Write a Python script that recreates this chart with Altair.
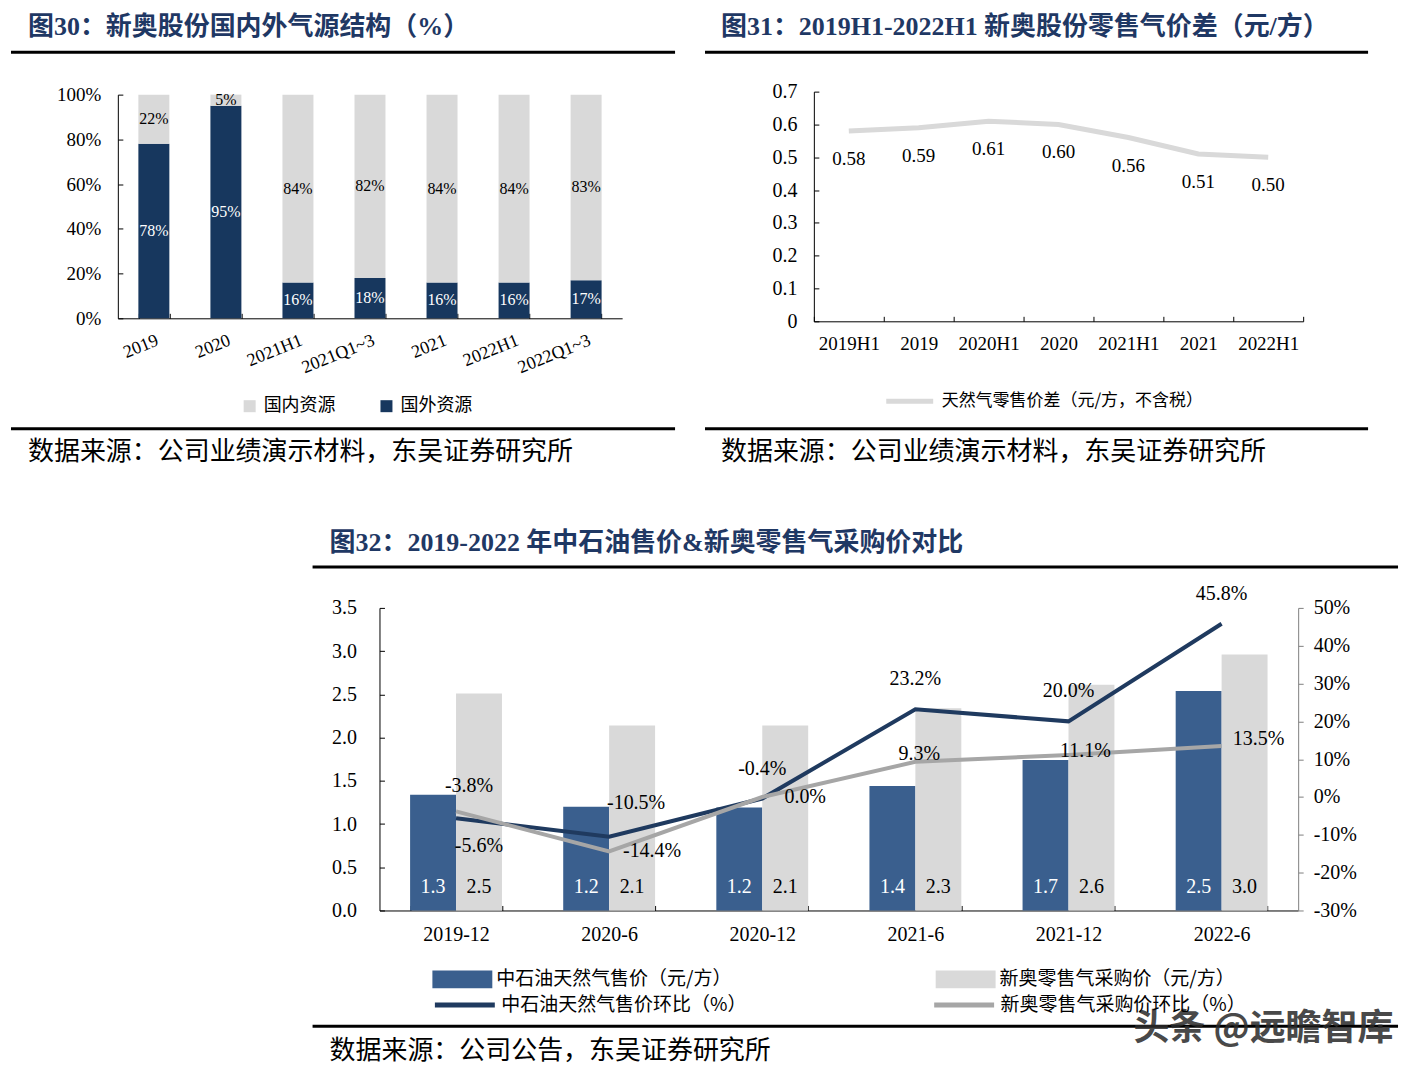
import altair as alt
import pandas as pd

# ---------------- data: figure 30 ----------------
PERIODS_30 = ["2019", "2020", "2021H1", "2021Q1~3", "2021", "2022H1", "2022Q1~3"]
DOMESTIC_30 = [22, 5, 84, 82, 84, 84, 83]
FOREIGN_30 = [78, 95, 16, 18, 16, 16, 17]
SOURCES_30 = ["国内资源", "国外资源"]

# ---------------- data: figure 31 ----------------
PERIODS_31 = ["2019H1", "2019", "2020H1", "2020", "2021H1", "2021", "2022H1"]
SPREAD_31 = [0.58, 0.59, 0.61, 0.60, 0.56, 0.51, 0.50]
SERIES_31 = "天然气零售价差（元/方，不含税）"

# ---------------- data: figure 32 ----------------
DATES_32 = ["2019-12", "2020-6", "2020-12", "2021-6", "2021-12", "2022-6"]
CNPC_PRICE = [1.34, 1.20, 1.19, 1.44, 1.74, 2.54]
ENN_PRICE = [2.51, 2.14, 2.14, 2.34, 2.61, 2.96]
CNPC_QOQ = [-5.6, -10.5, -0.4, 23.2, 20.0, 45.8]
ENN_QOQ = [-3.8, -14.4, 0.0, 9.3, 11.1, 13.5]
BAR_SERIES = ["中石油天然气售价（元/方）", "新奥零售气采购价（元/方）"]
LINE_SERIES = ["中石油天然气售价环比（%）", "新奥零售气采购价环比（%）"]

# label placement (style) for line labels of figure 32
CNPC_LABEL_POS = ["below_right", "above_right", "above", "above", "above", "above"]
ENN_LABEL_POS = ["above_near", "right", "right", "on", "on_right", "right_up"]
OFFSETS = {"above": (0, -30), "below_right": (23, 28), "above_right": (27, -34),
           "above_near": (13, -25), "right": (43, 0), "on": (4, -8),
           "on_right": (17, -4), "right_up": (37, -7)}

HEAD_1 = "图30：新奥股份国内外气源结构（%）"
HEAD_2 = "图31：2019H1-2022H1 新奥股份零售气价差（元/方）"
HEAD_3 = "图32：2019-2022 年中石油售价&新奥零售气采购价对比"
SRC_1 = "数据来源：公司业绩演示材料，东吴证券研究所"
SRC_3 = "数据来源：公司公告，东吴证券研究所"
WATERMARK = "头条 @远瞻智库"

# ---------------- styles ----------------
SERIF = "Liberation Serif, Noto Sans CJK SC, serif"
CJK = "Noto Sans CJK SC, sans-serif"
HEAD_FONT = "Liberation Serif, Noto Sans CJK SC"
HEAD_COLOR = "#1F3864"
NAVY_30 = "#17375E"
GRAY = "#D9D9D9"
BAR_BLUE = "#3A5F8E"
LINE_NAVY = "#1F3A5F"
LINE_GRAY = "#A6A6A6"

M = 8               # page margin: layout below is written in page pixels minus M
W, H = 1412, 1060   # canvas size

ONE = pd.DataFrame({"k": [0]})


def txt(s, x, y, size, color="black", weight="normal", font=CJK, opacity=1.0):
    return alt.Chart(ONE).mark_text(
        align="left", baseline="alphabetic", fontSize=size, font=font,
        fontWeight=weight, color=color, opacity=opacity
    ).encode(x=alt.value(x - M), y=alt.value(y - M), text=alt.value(s))


def hline(x1, x2, y, color="black", width=3):
    return alt.Chart(ONE).mark_rule(color=color, strokeWidth=width).encode(
        x=alt.value(x1 - M), x2=alt.value(x2 - M), y=alt.value(y - M))


def deco(heading, source, rx1, rx2, rule_top, rule_bottom, tx, head_base, src_base):
    return [
        txt(heading, tx, head_base, 26, HEAD_COLOR, "bold", HEAD_FONT),
        hline(rx1, rx2, rule_top),
        hline(rx1, rx2, rule_bottom),
        txt(source, tx, src_base, 26),
    ]


def left_off(x):      # offset placing a left axis at page x
    return -(x - M)


def right_off(x):     # offset placing a right axis at page x
    return (x - M) - W


def bottom_off(y):    # offset placing a bottom axis at page y
    return (y - M) - H


def top_off(y):       # offset placing a top axis at page y
    return -(y - M)


# main axes carry labels and domain; their own ticks are hidden because the
# reference draws ticks pointing into the plot (added by tick-only axes below)
AX = dict(domainColor="black", tickColor="black", labelColor="black", grid=False,
          labelOverlap=False, title=None, tickOpacity=0)


def inner_ticks_y(data, field, scale, x_page, values):
    return alt.Chart(data).mark_point(opacity=0).encode(
        y=alt.Y(field + ":Q", scale=scale,
                axis=alt.Axis(orient="right", offset=right_off(x_page), values=values,
                              labels=False, domain=False, tickSize=5, tickColor="black",
                              grid=False, title=None)))


def inner_ticks_x(data, field, sort, scale, y_page):
    return alt.Chart(data).mark_point(opacity=0).encode(
        x=alt.X(field + ":N", sort=sort, scale=scale,
                axis=alt.Axis(orient="top", offset=top_off(y_page), labels=False,
                              domain=False, tickSize=5, tickColor="black", tickBand="extent",
                              grid=False, title=None)))


# plot rectangles (page pixels): left, top, right, bottom
RA = (118, 94, 623, 318)
RB = (815, 91, 1305, 321)
RC = (380, 608, 1300, 911)

# ---------------- panel A (figure 30) ----------------
rows30 = []
for p, d, f in zip(PERIODS_30, DOMESTIC_30, FOREIGN_30):
    rows30.append(dict(period=p, source=SOURCES_30[1], value=f, ord=0))
    rows30.append(dict(period=p, source=SOURCES_30[0], value=d, ord=1))
df30 = pd.DataFrame(rows30)

stacked30 = alt.Chart(df30).transform_stack(
    stack="value", groupby=["period"], as_=["v0", "v1"],
    sort=[alt.SortField("ord", order="ascending")]
).transform_calculate(mid="(datum.v0 + datum.v1) / 2", lab="datum.value + '%'")

VALS_30 = [0, 20, 40, 60, 80, 100]
ax30x = alt.Axis(orient="bottom", offset=bottom_off(RA[3]), labelAngle=-22, labelAlign="right",
                 labelBaseline="top", labelFont=SERIF, labelFontSize=18, labelPadding=8,
                 tickBand="extent", tickSize=5, **AX)
ax30y = alt.Axis(orient="left", offset=left_off(RA[0]), values=VALS_30,
                 labelExpr="datum.value + '%'", labelFont=SERIF, labelFontSize=19,
                 labelPadding=12, tickSize=5, **AX)
sx30 = alt.Scale(type="band", paddingInner=0.57, paddingOuter=0.285, range=[RA[0] - M, RA[2] - M])
sy30 = alt.Scale(domain=[0, 100], nice=False, range=[RA[3] - M, RA[1] - M])

bars30 = stacked30.mark_bar().encode(
    x=alt.X("period:N", sort=PERIODS_30, title=None, scale=sx30, axis=ax30x),
    y=alt.Y("v0:Q", title=None, scale=sy30, axis=ax30y),
    y2="v1:Q",
    color=alt.Color("source:N", scale=alt.Scale(domain=SOURCES_30, range=[GRAY, NAVY_30]),
                    legend=alt.Legend(title=None, orient="none", legendX=241 - M, legendY=397 - M,
                                      direction="horizontal", symbolType="square",
                                      symbolSize=144, symbolStrokeWidth=0,
                                      labelFont=CJK, labelFontSize=18, labelColor="black",
                                      labelOffset=5, columnPadding=42, labelLimit=500)),
)

labels30 = stacked30.mark_text(font=SERIF, fontSize=16, baseline="middle").encode(
    x=alt.X("period:N", sort=PERIODS_30, title=None, scale=sx30, axis=ax30x),
    y=alt.Y("mid:Q", title=None, scale=sy30, axis=ax30y),
    text="lab:N",
    color=alt.condition(alt.datum.source == SOURCES_30[1], alt.value("white"), alt.value("black")),
)

panelA = alt.layer(bars30, labels30)

# ---------------- panel B (figure 31) ----------------
df31 = pd.DataFrame({"period": PERIODS_31, "spread": SPREAD_31, "series": SERIES_31})

VALS_31 = [0, 0.1, 0.2, 0.3, 0.4, 0.5, 0.6, 0.7]
ax31x = alt.Axis(orient="bottom", offset=bottom_off(RB[3]), labelAngle=0, labelFont=SERIF,
                 labelFontSize=19, labelPadding=8, tickBand="extent", tickSize=5, **AX)
ax31y = alt.Axis(orient="left", offset=left_off(RB[0]), values=VALS_31, format="~g",
                 labelFont=SERIF, labelFontSize=20, labelPadding=12, tickSize=5, **AX)
sx31 = alt.Scale(type="band", paddingInner=0, paddingOuter=0, range=[RB[0] - M, RB[2] - M])
sy31 = alt.Scale(domain=[0, 0.7], nice=False, range=[RB[3] - M, RB[1] - M])

line31 = alt.Chart(df31).mark_line(strokeWidth=5).encode(
    x=alt.X("period:N", sort=PERIODS_31, title=None, scale=sx31, axis=ax31x),
    y=alt.Y("spread:Q", title=None, scale=sy31, axis=ax31y),
    color=alt.Color("series:N", scale=alt.Scale(domain=[SERIES_31], range=[GRAY]),
                    legend=alt.Legend(title=None, orient="none", legendX=885 - M, legendY=375 - M,
                                      symbolType="stroke", symbolSize=2209,
                                      symbolStrokeWidth=5, labelFont=CJK, labelFontSize=17,
                                      labelColor="black", labelOffset=6, labelLimit=500)),
)

labels31 = alt.Chart(df31).mark_text(dy=28, font=SERIF, fontSize=19, baseline="middle").encode(
    x=alt.X("period:N", sort=PERIODS_31, title=None, scale=sx31, axis=ax31x),
    y=alt.Y("spread:Q", title=None, scale=sy31, axis=ax31y),
    text=alt.Text("spread:Q", format=".2f"),
)

panelB = alt.layer(line31, labels31)

# ---------------- panel C (figure 32) ----------------
bar_rows = []
for i, dte in enumerate(DATES_32):
    bar_rows.append(dict(date=dte, series=BAR_SERIES[0], price=CNPC_PRICE[i]))
    bar_rows.append(dict(date=dte, series=BAR_SERIES[1], price=ENN_PRICE[i]))
df32b = pd.DataFrame(bar_rows)

line_rows = []
for i, dte in enumerate(DATES_32):
    line_rows.append(dict(date=dte, series=LINE_SERIES[0], qoq=CNPC_QOQ[i], key="a" + str(i)))
    line_rows.append(dict(date=dte, series=LINE_SERIES[1], qoq=ENN_QOQ[i], key="b" + str(i)))
df32l = pd.DataFrame(line_rows)

ax32x = alt.Axis(orient="bottom", offset=bottom_off(RC[3]), labelAngle=0, labelFont=SERIF,
                 labelFontSize=20, labelPadding=9, tickBand="extent", tickSize=5, **AX)
sx32 = alt.Scale(type="band", paddingInner=0.4, paddingOuter=0.2, range=[RC[0] - M, RC[2] - M])
x32 = alt.X("date:N", sort=DATES_32, title=None, scale=sx32, axis=ax32x)
xoff = alt.XOffset("series:N", sort=BAR_SERIES, scale=alt.Scale(paddingInner=0, paddingOuter=0))

VALS_32L = [0, 0.5, 1.0, 1.5, 2.0, 2.5, 3.0, 3.5]
ax32l = alt.Axis(orient="left", offset=left_off(RC[0]), values=VALS_32L, format=".1f",
                 labelFont=SERIF, labelFontSize=20, labelPadding=18, tickSize=5, **AX)
sy32l = alt.Scale(domain=[0, 3.5], nice=False, range=[RC[3] - M, RC[1] - M])
ax32r = alt.Axis(orient="right", offset=right_off(RC[2]),
                 values=[-30, -20, -10, 0, 10, 20, 30, 40, 50],
                 labelExpr="datum.value + '%'", labelFont=SERIF, labelFontSize=20,
                 labelPadding=10, tickSize=5, grid=False, labelOverlap=False,
                 title=None, domainColor="#808080", tickColor="#808080", labelColor="black")
sy32r = alt.Scale(domain=[-30, 50], nice=False, range=[RC[3] - M, RC[1] - M])

bars32 = alt.Chart(df32b).mark_bar().encode(
    x=x32, xOffset=xoff,
    y=alt.Y("price:Q", title=None, scale=sy32l, axis=ax32l),
    fill=alt.Fill("series:N", scale=alt.Scale(domain=BAR_SERIES, range=[BAR_BLUE, GRAY]),
                  legend=alt.Legend(title=None, orient="none", legendX=433 - M, legendY=950 - M,
                                    direction="horizontal",
                                    symbolType="M-1,-0.3H1V0.3H-1Z", symbolSize=3600,
                                    symbolStrokeWidth=0, labelFont=CJK, labelFontSize=19,
                                    labelColor="black", labelOffset=4, columnPadding=204,
                                    labelLimit=500)),
)

barlab32 = alt.Chart(df32b).mark_text(dy=-23, baseline="middle", font=SERIF, fontSize=20).encode(
    x=x32, xOffset=xoff,
    y=alt.datum(0),
    text=alt.Text("price:Q", format=".1f"),
    color=alt.condition(alt.datum.series == BAR_SERIES[0], alt.value("white"), alt.value("black")),
)

lines32 = alt.Chart(df32l).mark_line(strokeWidth=4).encode(
    x=x32,
    y=alt.Y("qoq:Q", title=None, scale=sy32r, axis=ax32r),
    stroke=alt.Stroke("series:N", scale=alt.Scale(domain=LINE_SERIES, range=[LINE_NAVY, LINE_GRAY]),
                      legend=alt.Legend(title=None, orient="none", legendX=433 - M, legendY=973 - M,
                                        direction="horizontal", symbolType="stroke",
                                        symbolSize=3600, symbolStrokeWidth=5,
                                        labelFont=CJK, labelFontSize=19, labelColor="black",
                                        labelOffset=4, columnPadding=177, labelLimit=500)),
)

placements = {}
for i, pos in enumerate(CNPC_LABEL_POS):
    placements.setdefault(pos, []).append("a" + str(i))
for i, pos in enumerate(ENN_LABEL_POS):
    placements.setdefault(pos, []).append("b" + str(i))

line_labels = []
for pos, keys in placements.items():
    dx, dy = OFFSETS[pos]
    line_labels.append(
        alt.Chart(df32l).transform_filter(
            alt.FieldOneOfPredicate(field="key", oneOf=keys)
        ).transform_calculate(
            lab="(datum.qoq < 0 ? '-' : '') + format(abs(datum.qoq), '.1f') + '%'"
        ).mark_text(dx=dx, dy=dy, baseline="middle", font=SERIF, fontSize=20, color="black").encode(
            x=x32,
            y=alt.Y("qoq:Q", title=None, scale=sy32r, axis=ax32r),
            text="lab:N",
        )
    )

panelC = alt.layer(
    alt.layer(bars32, barlab32),
    alt.layer(lines32, *line_labels),
).resolve_scale(y="independent")

# inward-pointing ticks, as in the reference
tick_layers = [
    inner_ticks_y(df30, "value", sy30, RA[0], VALS_30),
    inner_ticks_x(df30, "period", PERIODS_30, sx30, RA[3]),
    inner_ticks_y(df31, "spread", sy31, RB[0], VALS_31),
    inner_ticks_x(df31, "period", PERIODS_31, sx31, RB[3]),
    inner_ticks_y(df32b, "price", sy32l, RC[0], VALS_32L),
    inner_ticks_x(df32b, "date", DATES_32, sx32, RC[3]),
]

# ---------------- assemble on one page-sized canvas ----------------
decorations = (
    deco(HEAD_1, SRC_1, 11, 676, 51.5, 428.5, 28, 34, 460)
    + deco(HEAD_2, SRC_1, 706, 1370, 51.5, 428.5, 722, 34, 460)
    + deco(HEAD_3, SRC_3, 313, 1400, 567, 1027, 330, 551, 1060)
    + [txt(WATERMARK, 1135, 1041, 36, color="#2A2A2A", weight="bold", opacity=0.85)]
)

chart = alt.layer(panelA, panelB, panelC, *tick_layers, *decorations).resolve_scale(
    x="independent", y="independent", color="independent",
    fill="independent", stroke="independent"
).properties(
    width=W, height=H, padding=0, background="white",
    autosize=alt.AutoSizeParams(type="none"),
).configure_view(stroke=None)

chart.save("out.html", embed_options={"renderer": "svg", "actions": False})
